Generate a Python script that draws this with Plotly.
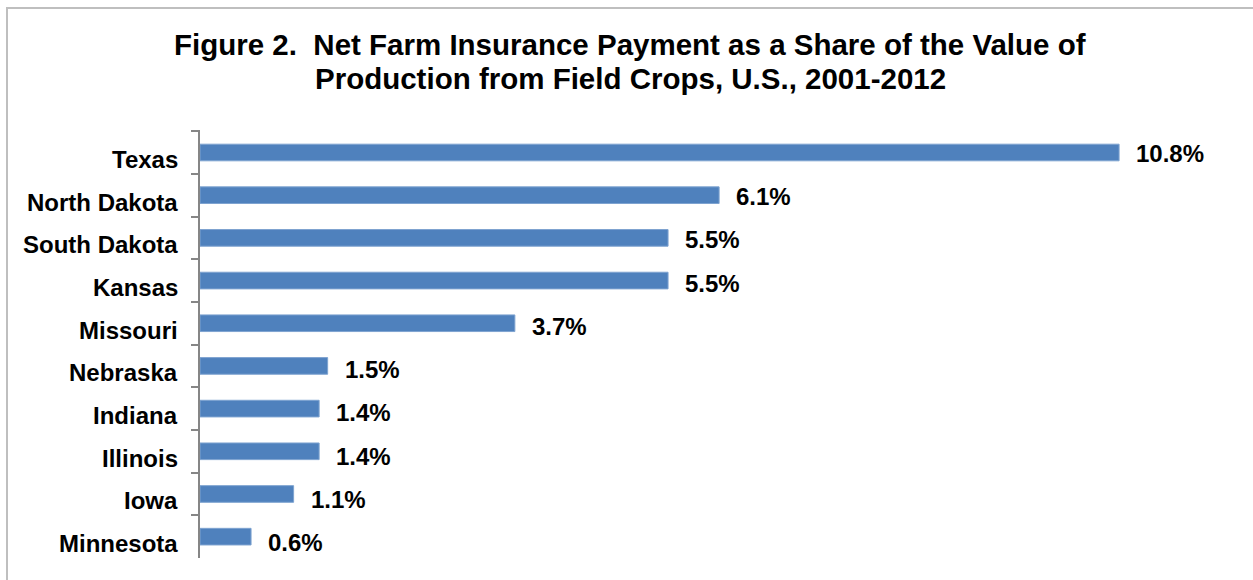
import plotly.graph_objects as go

states = ["Texas", "North Dakota", "South Dakota", "Kansas", "Missouri",
          "Nebraska", "Indiana", "Illinois", "Iowa", "Minnesota"]
shares = [10.8, 6.1, 5.5, 5.5, 3.7, 1.5, 1.4, 1.4, 1.1, 0.6]
labels = ["10.8%", "6.1%", "5.5%", "5.5%", "3.7%", "1.5%", "1.4%", "1.4%", "1.1%", "0.6%"]
title_lines = ["Figure 2.  Net Farm Insurance Payment as a Share of the Value of",
               "Production from Field Crops, U.S., 2001-2012"]

W, H = 1253, 580
L, R, T, B = 200, 32, 130, 22
pw, ph = W - L - R, H - T - B

FONT = "Liberation Sans, Arial, sans-serif"

fig = go.Figure()
fig.add_trace(go.Bar(
    x=shares, y=states, orientation="h",
    marker=dict(color="#4F81BD", line=dict(color="#7EA3D0", width=1)),
    hoverinfo="skip",
))

n = len(states)
for i, (s, v, t) in enumerate(zip(states, shares, labels)):
    # value labels
    fig.add_annotation(x=v, y=s, text="<b>%s</b>" % t, showarrow=False,
                       xanchor="left", xshift=15, yshift=-(1 + 5 * i / (n - 1)),
                       font=dict(family=FONT, size=24, color="#000000"))
    # category labels
    fig.add_annotation(x=0, xref="paper", y=s, text="<b>%s</b>" % s, showarrow=False,
                       xanchor="right", xshift=-20, yshift=-7,
                       font=dict(family=FONT, size=24, color="#000000"))

# title lines
for j, line in enumerate(title_lines):
    fig.add_annotation(x=(630 - L) / pw, xref="paper", xanchor="center",
                       y=(H - B - (45 + 33 * j)) / ph, yref="paper", yanchor="middle",
                       text="<b>%s</b>" % line, showarrow=False,
                       font=dict(family=FONT, size=29.5, color="#000000"))

# outer chart border
fig.add_shape(type="rect", xref="paper", yref="paper",
              x0=(7 - L) / pw, x1=1.2, y0=-0.3, y1=(H - B - 8) / ph,
              line=dict(color="#BFBFBF", width=2), fillcolor="rgba(0,0,0,0)", layer="below")

fig.update_layout(
    width=W, height=H,
    margin=dict(l=L, r=R, t=T, b=B),
    paper_bgcolor="white", plot_bgcolor="white",
    showlegend=False,
    bargap=0.61,
    xaxis=dict(range=[0, pw / 85.1], visible=False, fixedrange=True),
    yaxis=dict(autorange="reversed", type="category",
               showline=True, linecolor="#868686", linewidth=1.5,
               ticks="outside", ticklen=7, tickcolor="#868686", tickwidth=1.5,
               tickson="boundaries", showticklabels=False,
               showgrid=False, zeroline=False),
)

fig.write_html("out.html")
